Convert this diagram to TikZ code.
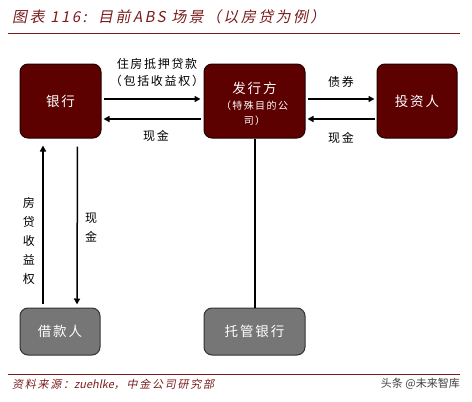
\documentclass[tikz,border=0pt]{standalone}
\usepackage{fontspec}
\setmainfont{Noto Sans CJK SC}[LetterSpace=14]
\newfontfamily\cjkit{Noto Sans CJK SC}[FakeSlant=0.2, LetterSpace=16]
\newfontfamily\cjkitn{Noto Sans CJK SC}[FakeSlant=0.2]
\newfontfamily\cjkplain{Noto Sans CJK SC}
\usetikzlibrary{arrows.meta}
\definecolor{boxred}{HTML}{5C0000}
\definecolor{boxredline}{HTML}{220000}
\definecolor{titlered}{HTML}{7A1C1C}
\definecolor{boxgray}{HTML}{767676}
\definecolor{boxgrayline}{HTML}{333333}
\begin{document}
\begin{tikzpicture}[x=1pt,y=-1pt,
  redbox/.style={draw=boxredline, line width=1pt, fill=boxred, rounded corners=8pt,
    text=white, font=\fontsize{13.5}{15}\selectfont, align=center,
    minimum width=81pt, minimum height=74pt, inner sep=1pt},
  graybox/.style={draw=boxgrayline, line width=1pt, fill=boxgray, rounded corners=8pt,
    text=white, font=\fontsize{13.5}{15}\selectfont, align=center,
    minimum width=80pt, minimum height=47pt, inner sep=1pt},
  arr/.style={line width=1.5pt, -{Triangle[length=6pt,width=6pt]}},
  lbl/.style={font=\fontsize{12}{14}\selectfont, inner sep=0pt, align=center},
  vlbl/.style={font=\fontsize{12}{19}\selectfont, inner sep=0pt, align=center},
]
\useasboundingbox (0,0) rectangle (472,402);
% title
\node[anchor=west, text=titlered, font=\cjkit\fontsize{15}{17}\selectfont, inner sep=0pt] (title) at (12,17) {图表 116:~~目前ABS 场景（以房贷为例）};
\draw[titlered, line width=1pt] (8,33) coordinate (t1) -- (460,33) coordinate (t2);
% boxes
\node[redbox] (bank) at (60.5,101) {银行};
\node[redbox, minimum width=101pt] (issuer) at (254.5,101) {\raisebox{-5pt}[\height][\depth]{\begin{tabular}{@{}c@{}}发行方\\[1pt]{\fontsize{10}{15}\selectfont （特殊目的公}\\{\fontsize{10}{15}\selectfont 司）}\end{tabular}}};
\node[redbox, minimum width=80pt] (inv) at (417,101) {投资人};
\node[graybox] (borrow) at (60,331.5) {借款人};
\node[graybox, minimum width=101pt] (cust) at (254.5,331.5) {托管银行};
% horizontal arrows
\draw[arr, shorten <=2pt, shorten >=3pt] ([yshift=2pt]bank.east) -- ([yshift=2pt]issuer.west);
\draw[arr, shorten <=3pt, shorten >=2pt] ([yshift=-18pt]issuer.west) -- ([yshift=-18pt]bank.east);
\draw[arr, shorten <=2pt, shorten >=2pt] ([yshift=2pt]issuer.east) -- ([yshift=2pt]inv.west);
\draw[arr, shorten <=2pt, shorten >=2pt] ([yshift=-18pt]inv.west) -- ([yshift=-18pt]issuer.east);
% vertical arrows
\draw[arr, shorten <=4pt, shorten >=7pt] ([xshift=-17pt]borrow.north) -- ([xshift=-17.5pt]bank.south);
\draw[arr, shorten <=8pt, shorten >=3pt] ([xshift=17pt]bank.south) -- ([xshift=17pt]borrow.north);
\draw[line width=1.6pt] ([xshift=0.5pt]issuer.south) -- ([xshift=0.5pt]cust.north);
% labels
\node[lbl] (l1) at (157,64) {住房抵押贷款};
\node[lbl] (l2) at (157,81) {（包括收益权）};
\node[lbl] (l3) at (156,136) {现金};
\node[lbl] (l4) at (341,82) {债券};
\node[lbl] (l5) at (341,138) {现金};
\node[vlbl] (l6) at (29,241) {房\\贷\\收\\益\\权};
\node[vlbl] (l7) at (91,228) {现\\金};
% footer
\draw[titlered, line width=1pt] (8,374) coordinate (f1) -- (460,374) coordinate (f2);
\node[anchor=west, text=titlered, font=\cjkit\fontsize{11}{13}\selectfont, inner sep=0pt] (src) at (12,384) {资料来源：{\cjkitn zuehlke}，中金公司研究部};
\node[anchor=east, text=black!75, font=\cjkplain\fontsize{11}{13}\selectfont, inner sep=0pt] (wm) at (460,384) {头条 @未来智库};
\end{tikzpicture}
\end{document}
